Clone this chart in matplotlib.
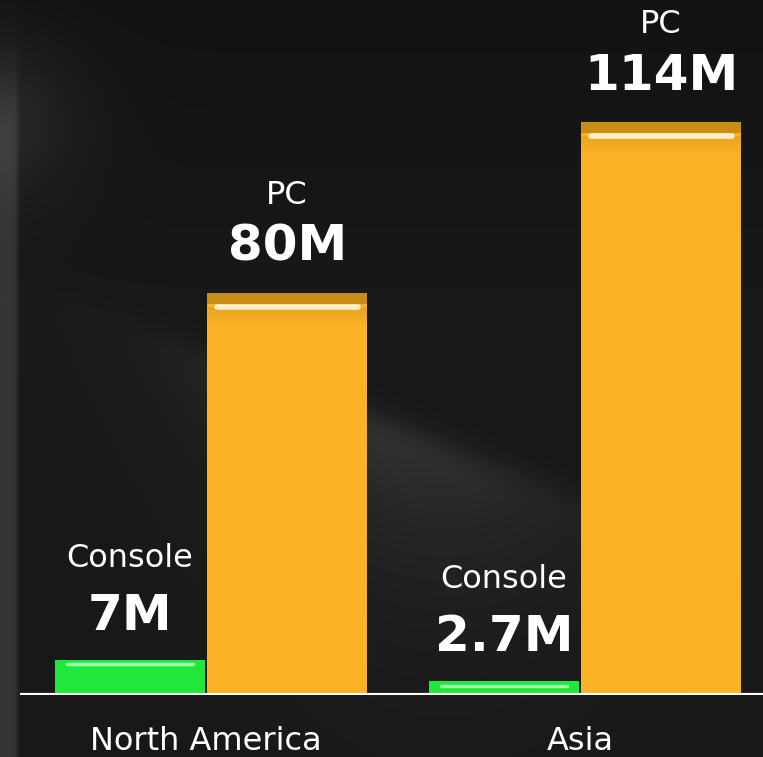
import numpy as np
import matplotlib
matplotlib.use("Agg")
import matplotlib.pyplot as plt

# Data
regions = ["North America", "Asia"]
console = [7, 2.7]      # millions
pc = [80, 114]          # millions
console_labels = ["7M", "2.7M"]
pc_labels = ["80M", "114M"]

# Style
GREEN = "#20e83a"
ORANGE = "#fbb226"
plt.rcParams["font.family"] = ["DejaVu Sans"]

W, H = 763, 757
fig = plt.figure(figsize=(W / 100, H / 100), dpi=100)

# Dark background with soft sheen
bg = fig.add_axes([0, 0, 1, 1])
yy, xx = np.mgrid[0:H, 0:W].astype(float)
shade = 0.075 + 0.02 * np.clip(yy / 300, 0, 1)
# light strip on the left edge
strip = 1 / (1 + np.exp((xx - 17) / 1.2)) * 1 / (1 + np.exp(-(yy - 90) / 25))
shade += 0.11 * strip
# glow at top-left
shade += 0.07 * np.exp(-((xx) ** 2 / 80 ** 2 + (yy - 120) ** 2 / 80 ** 2))
# diagonal sheen in the middle
d = (yy - 415 - 0.39 * (xx - 367)) / np.sqrt(1 + 0.39 ** 2)
edge = 1 / (1 + np.exp(-d / 8))
sheen = edge * np.exp(-np.clip(d, 0, None) / 110) * np.exp(-((xx - 380) / 200) ** 2)
shade += 0.12 * sheen
shade = np.clip(shade, 0, 1)
bg.imshow(np.dstack([shade] * 3), aspect="auto", extent=(0, 1, 0, 1), origin="upper")
bg.axis("off")

# Main axes
ax = fig.add_axes([20 / W, 1 - 695 / H, 1 - 20 / W, 695 / H])
ax.set_facecolor("none")
x = np.arange(len(regions))
wc, wp = 0.401, 0.428
xc = x - 0.203
xp = x + 0.217
ax.bar(xc, console, width=wc, color=GREEN, edgecolor="none", zorder=2)
ax.bar(xp, pc, width=wp, color=ORANGE, edgecolor="none", zorder=2)

# glossy highlight lines near bar tops
for xi, v in zip(xc, console):
    ax.plot([xi - wc * 0.42, xi + wc * 0.42], [v - 0.9, v - 0.9], color="#b8ffbf", lw=2.5, alpha=0.85,
            solid_capstyle="round", zorder=3)
for xi, v in zip(xp, pc):
    ax.bar(xi, 2.2, bottom=v - 2.2, width=wp, color="#c98d16", edgecolor="none", zorder=3)
    for k in range(6):
        ax.bar(xi, 0.6, bottom=v - 2.8 - 0.6 * (k + 1), width=wp, color="#d99a1a",
               alpha=0.5 * (1 - k / 6), edgecolor="none", zorder=3)
    ax.plot([xi - wp * 0.44, xi + wp * 0.44], [v - 2.8, v - 2.8], color="#fff4d6", lw=4, alpha=0.95,
            solid_capstyle="round", zorder=4)

# value labels
for xi, v, lab in zip(xc, console, console_labels):
    ax.annotate(lab, (xi, v), xytext=(0, 20), textcoords="offset pixels", ha="center", va="bottom",
                color="white", fontsize=36, fontweight="bold")
    ax.annotate("Console", (xi, v), xytext=(0, 86), textcoords="offset pixels", ha="center", va="bottom",
                color="white", fontsize=23)
for xi, v, lab in zip(xp, pc, pc_labels):
    ax.annotate(lab, (xi, v), xytext=(0, 22), textcoords="offset pixels", ha="center", va="bottom",
                color="white", fontsize=36, fontweight="bold")
    ax.annotate("PC", (xi, v), xytext=(0, 82), textcoords="offset pixels", ha="center", va="bottom",
                color="white", fontsize=23)

ax.axhline(0, color="white", lw=3, zorder=5)
ax.set_xlim(-186 / 374, 557 / 374)
ax.set_ylim(0, 114 * 695 / 573)
ax.set_xticks(x)
ax.set_xticklabels(regions, color="white", fontsize=23)
ax.tick_params(axis="x", length=0, pad=22)
ax.set_yticks([])
for s in ax.spines.values():
    s.set_visible(False)

fig.savefig("out.png", dpi=100)
